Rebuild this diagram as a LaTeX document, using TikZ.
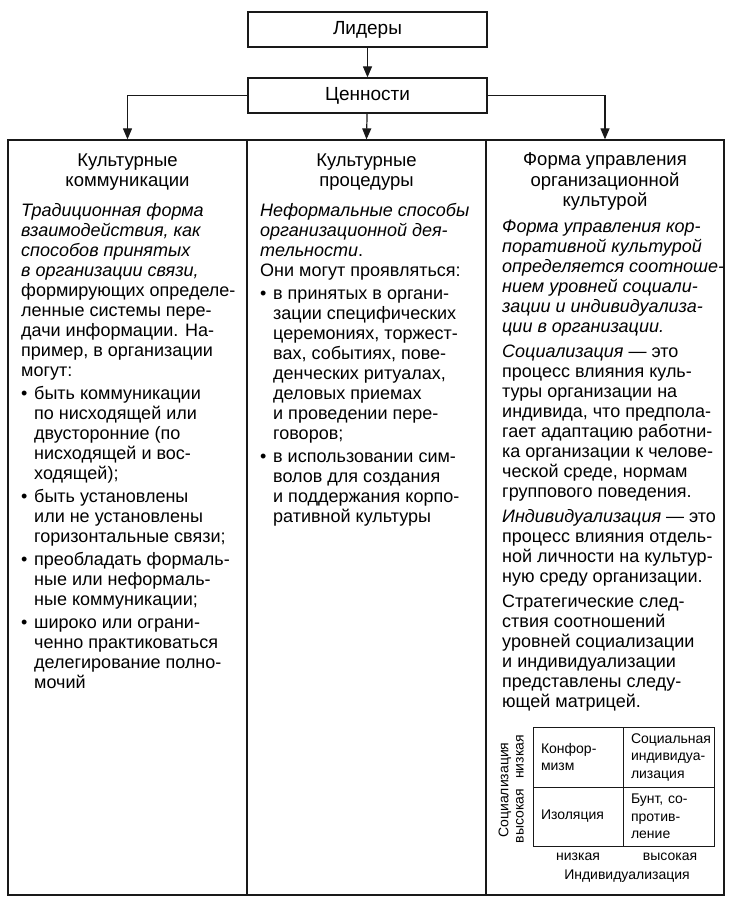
\documentclass[tikz,border=0pt]{standalone}
\usepackage{fontspec}
\setmainfont{Liberation Sans}
\usetikzlibrary{arrows.meta}
\newcommand\mybul{\makebox[13pt][l]{\textbullet}}
\newcommand\myind{\hspace*{13pt}}
\begin{document}
\begin{tikzpicture}[x=1pt,y=-1pt,
  ink/.style={draw=black!90, line width=1.3pt},
  topbox/.style={ink, minimum width=239pt, minimum height=35pt, inner sep=0pt,
    font=\fontsize{19}{20}\selectfont},
  colbox/.style={ink, minimum height=755pt, inner sep=0pt},
  hdr/.style={align=center, inner sep=0pt, font=\fontsize{18.5}{20.5}\selectfont},
  body/.style={align=left, inner sep=0pt, anchor=north west, font=\fontsize{18}{20}\selectfont},
  cell/.style={ink, line width=1pt, inner xsep=8pt, inner ysep=0pt, align=left,
    font=\fontsize{14}{17.5}\selectfont},
  axis/.style={inner sep=0pt, font=\fontsize{14}{17}\selectfont},
  arr/.style={ink, line width=1.2pt, -{Triangle[length=11pt,width=9pt]}}]
\useasboundingbox (0,0) rectangle (731,906);
\fill[white] (0,0) rectangle (731,906);

\node[topbox] (leaders) at (367.5,29.5) {Лидеры};
\node[topbox] (values) at (367.5,95.5) {Ценности};

\node[colbox, minimum width=239pt] (c1) at (127.5,517.5) {};
\node[colbox, minimum width=239pt] (c2) at (366.5,517.5) {};
\node[colbox, minimum width=238pt] (c3) at (605,517.5) {};

\draw[arr] (leaders) -- (values);
\draw[arr] (values.west) -| (c1.north);
\draw[arr] (values) -- (c2.north);
\draw[arr] (values.east) -| (c3.north);

\node[hdr] (h1) at (127.5,172) {Культурные\\коммуникации};
\node[hdr] (h2) at (366.5,172) {Культурные\\процедуры};
\node[hdr] (h3) at (605,182) {Форма управления\\организационной\\культурой};

\node[body] (t1) at (21,203) {%
\textit{Традиционная форма}\\
\textit{взаимодействия, как}\\
\textit{способов принятых}\\
\textit{в организации связи,}\\
формирующих определе-\\
ленные системы пере-\\
дачи информации. На-\\
пример, в организации\\
могут:\\[3pt]
\mybul быть коммуникации\\
\myind по нисходящей или\\
\myind двусторонние (по\\
\myind нисходящей и вос-\\
\myind ходящей);\\[3pt]
\mybul быть установлены\\
\myind или не установлены\\
\myind горизонтальные связи;\\[3pt]
\mybul преобладать формаль-\\
\myind ные или неформаль-\\
\myind ные коммуникации;\\[3pt]
\mybul широко или ограни-\\
\myind ченно практиковаться\\
\myind делегирование полно-\\
\myind мочий};

\node[body] (t2) at (260,203) {%
\textit{Неформальные способы}\\
\textit{организационной дея-}\\
\textit{тельности}.\\
Они могут проявляться:\\[3pt]
\mybul в принятых в органи-\\
\myind зации специфических\\
\myind церемониях, торжест-\\
\myind вах, событиях, пове-\\
\myind денческих ритуалах,\\
\myind деловых приемах\\
\myind и проведении пере-\\
\myind говоров;\\[3pt]
\mybul в использовании сим-\\
\myind волов для создания\\
\myind и поддержания корпо-\\
\myind ративной культуры};

\node[body] (t3) at (502,220) {%
\textit{Форма управления кор-}\\
\textit{поративной культурой}\\
\textit{определяется соотноше-}\\
\textit{нием уровней социали-}\\
\textit{зации и индивидуализа-}\\
\textit{ции в организации.}\\[5pt]
\textit{Социализация} — это\\
процесс влияния куль-\\
туры организации на\\
индивида, что предпола-\\
гает адаптацию работни-\\
ка организации к челове-\\
ческой среде, нормам\\
группового поведения.\\[5pt]
\textit{Индивидуализация} — это\\
процесс влияния отдель-\\
ной личности на культур-\\
ную среду организации.\\[5pt]
Стратегические след-\\
ствия соотношений\\
уровней социализации\\
и индивидуализации\\
представлены следу-\\
ющей матрицей.};

\node[cell, minimum width=90pt, minimum height=60pt, text width=74pt] (m11) at (578,757) {Конфор-\\мизм};
\node[cell, minimum width=91pt, minimum height=60pt, text width=75pt] (m12) at (668.5,757) {Социальная\\индивидуа-\\лизация};
\node[cell, minimum width=90pt, minimum height=59pt, text width=74pt] (m21) at (578,816.5) {Изоляция};
\node[cell, minimum width=91pt, minimum height=59pt, text width=75pt] (m22) at (668.5,816.5) {Бунт, со-\\против-\\ление};

\node[axis, rotate=90] (soc) at (505,790) {Социализация};
\node[axis, rotate=90] (shi) at (520,816) {высокая};
\node[axis, rotate=90] (slo) at (520,757) {низкая};
\node[axis] (ilo) at (578,857) {низкая};
\node[axis] (ihi) at (670,857) {высокая};
\node[axis] (ind) at (627,876) {Индивидуализация};
\end{tikzpicture}
\end{document}
